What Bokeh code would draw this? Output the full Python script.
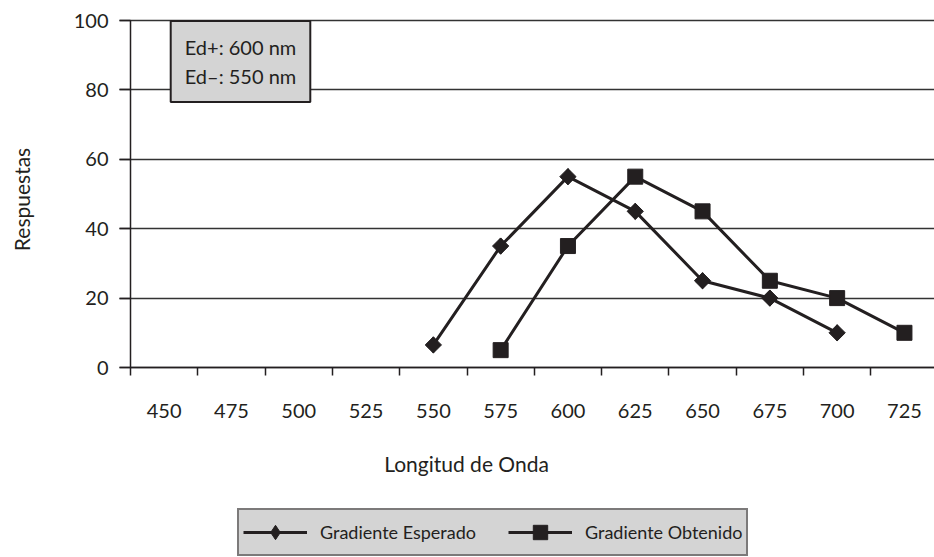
import math
from bokeh.plotting import figure
from bokeh.models import (Range1d, FixedTicker, Legend, LegendItem, Label)
from bokeh.embed import file_html
from bokeh.resources import INLINE

# ---- data ----
wavelengths = ["450", "475", "500", "525", "550", "575", "600", "625", "650", "675", "700", "725"]
esperado_cats = ["550", "575", "600", "625", "650", "675", "700"]
esperado_vals = [6.5, 35, 55, 45, 25, 20, 10]
obtenido_cats = ["575", "600", "625", "650", "675", "700", "725"]
obtenido_vals = [5, 35, 55, 45, 25, 20, 10]
y_ticks = [0, 20, 40, 60, 80, 100]

FONT = "Lato"
INK = "#231f20"

pos = {c: i + 0.5 for i, c in enumerate(wavelengths)}
ex = [pos[c] for c in esperado_cats]
ox = [pos[c] for c in obtenido_cats]

# The frame covers the whole canvas so that every annotation lives inside it;
# the axes are pinned with fixed_location.
# x=0 (first category edge) sits at 130px, one category = 67.3px;
# y=0 sits at 367px, y=100 at 20px (3.47px per unit).
PX_X = 67.3
PX_Y = 3.47
X_LEFT = -130 / PX_X
X_RIGHT = 804 / PX_X
Y_BOTTOM = -(557 - 367) / PX_Y
Y_TOP = 100 + 20 / PX_Y
p = figure(width=934, height=557, output_backend="svg", toolbar_location=None,
           min_border_left=0, min_border_right=0, min_border_top=0, min_border_bottom=0,
           x_range=Range1d(X_LEFT, X_RIGHT), y_range=Range1d(Y_BOTTOM, Y_TOP))
p.outline_line_color = None
p.background_fill_color = "white"
p.border_fill_color = "white"

# x axis
xa = p.xaxis[0]
xa.fixed_location = 0
xa.bounds = (0, X_RIGHT)
xa.ticker = FixedTicker(ticks=[pos[c] for c in wavelengths], minor_ticks=list(range(len(wavelengths) + 1)))
xa.major_label_overrides = {pos[c]: c for c in wavelengths}
xa.major_tick_line_color = None
xa.major_tick_out = 0
xa.major_tick_in = 0
xa.minor_tick_out = 8
xa.minor_tick_in = 0
xa.minor_tick_line_color = INK
xa.minor_tick_line_width = 1.5
xa.axis_line_color = INK
xa.axis_line_width = 1.5
xa.major_label_text_font = FONT
xa.major_label_text_font_size = "20px"
xa.major_label_text_color = INK
xa.major_label_standoff = 28

# y axis
ya = p.yaxis[0]
ya.fixed_location = 0
ya.bounds = (0, 100)
ya.ticker = FixedTicker(ticks=y_ticks, minor_ticks=[])
ya.major_tick_out = 11
ya.major_tick_in = 0
ya.major_tick_line_color = INK
ya.major_tick_line_width = 1.5
ya.axis_line_color = INK
ya.axis_line_width = 1.5
ya.major_label_text_font = FONT
ya.major_label_text_font_size = "20px"
ya.major_label_text_color = INK
ya.major_label_standoff = 11

p.xgrid.grid_line_color = None
p.ygrid.ticker = FixedTicker(ticks=y_ticks)
p.ygrid.cross_bounds = (-11 / PX_X, X_RIGHT)
p.ygrid.grid_line_color = "#333333"
p.ygrid.grid_line_width = 1.5

# series
l1 = p.line(ex, esperado_vals, line_color=INK, line_width=3)
d1 = p.scatter(ex, esperado_vals, marker="diamond", size=16, fill_color=INK, line_color=INK)
p.scatter(ex, esperado_vals, marker="square", size=11.5, angle=math.pi / 4,
          fill_color=INK, line_color=INK)
l2 = p.line(ox, obtenido_vals, line_color=INK, line_width=3)
m2 = p.scatter(ox, obtenido_vals, marker="square", size=15, fill_color=INK, line_color=INK)

# axis titles
p.add_layout(Label(x=20.5, y=358, x_units="screen", y_units="screen", text="Respuestas",
                   angle=math.pi / 2, text_align="center", text_baseline="middle",
                   text_font=FONT, text_font_size="21px", text_color=INK))
p.add_layout(Label(x=466, y=94, x_units="screen", y_units="screen", text="Longitud de Onda",
                   text_align="center", text_baseline="middle", text_font=FONT,
                   text_font_size="21px", text_color=INK))

legend = Legend(items=[LegendItem(label="Gradiente Esperado", renderers=[l1, d1]),
                       LegendItem(label="Gradiente Obtenido", renderers=[l2, m2])],
                location=(237, 1), orientation="horizontal",
                glyph_width=64, glyph_height=36, label_height=20, label_standoff=13,
                spacing=32, padding=4, margin=0,
                border_line_color=INK, border_line_width=2,
                background_fill_color="#d4d4d4", background_fill_alpha=1,
                label_text_font=FONT, label_text_font_size="18px", label_text_color=INK)
p.add_layout(legend, "center")

# info box
p.add_layout(Label(x=240, y=496, x_units="screen", y_units="screen",
                   text="Ed+: 600 nm\nEd\u2013: 550 nm",
                   text_align="center", text_baseline="middle", text_font=FONT,
                   text_font_size="20px", text_color=INK, padding=14,
                   background_fill_color="#d4d4d4", background_fill_alpha=1,
                   border_line_color=INK, border_line_width=2))

open("out.html", "w").write(file_html(p, INLINE))
